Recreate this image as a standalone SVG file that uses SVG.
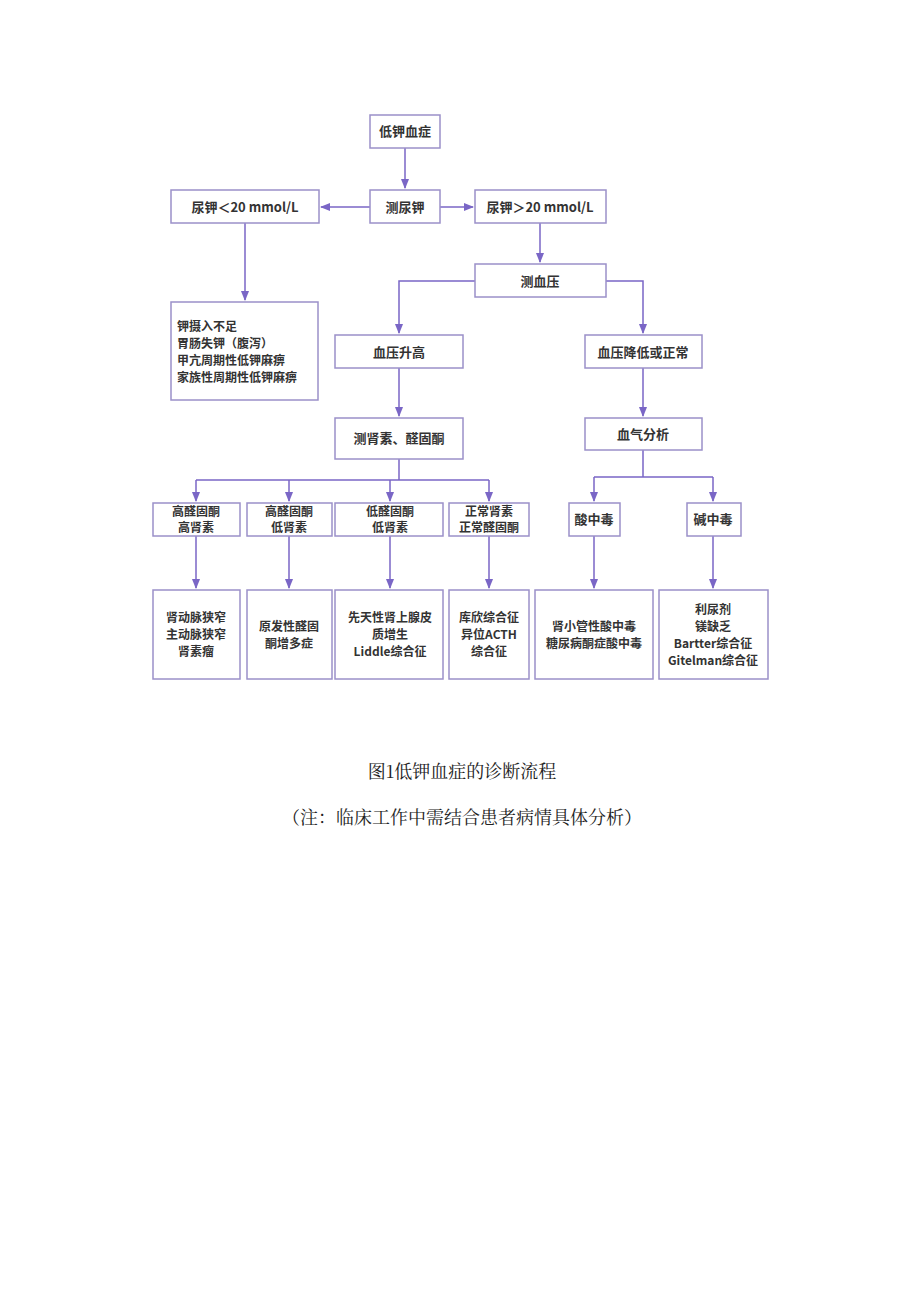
<svg xmlns="http://www.w3.org/2000/svg" width="920" height="1301" viewBox="0 0 920 1301">
<defs>
<marker id="ar" viewBox="0 0 10 10" refX="9" refY="5" markerWidth="7" markerHeight="7" orient="auto"><path d="M0,1 L10,5 L0,9 Z" fill="#7a66c6"/></marker>
<style>
.b{fill:#fff;stroke:#9b90c9;stroke-width:1.5}
.t{font-family:"Noto Sans CJK SC","Noto Sans",sans-serif;font-size:13px;font-weight:bold;fill:#333;text-anchor:middle}
.m{font-size:12px}
.l{text-anchor:start}
.c{fill:none;stroke:#7a66c6;stroke-width:1.5}
.cap{font-family:"Noto Serif CJK SC","Noto Sans CJK SC",serif;font-size:18px;fill:#222;text-anchor:middle}
</style>
</defs>
<rect width="920" height="1301" fill="#fff"/>
<g id="connectors">
<path class="c" d="M405,148 V188" marker-end="url(#ar)"/>
<path class="c" d="M370,207 H321" marker-end="url(#ar)"/>
<path class="c" d="M440,207 H473" marker-end="url(#ar)"/>
<path class="c" d="M245,223 V300" marker-end="url(#ar)"/>
<path class="c" d="M540,223 V262" marker-end="url(#ar)"/>
<path class="c" d="M475,281 H399 V333" marker-end="url(#ar)"/>
<path class="c" d="M606,281 H643 V333" marker-end="url(#ar)"/>
<path class="c" d="M399,368 V416" marker-end="url(#ar)"/>
<path class="c" d="M643,368 V416" marker-end="url(#ar)"/>
<path class="c" d="M399,459 V480"/>
<path class="c" d="M196,480 H489"/>
<path class="c" d="M196,480 V501" marker-end="url(#ar)"/>
<path class="c" d="M289,480 V501" marker-end="url(#ar)"/>
<path class="c" d="M390,480 V501" marker-end="url(#ar)"/>
<path class="c" d="M489,480 V501" marker-end="url(#ar)"/>
<path class="c" d="M643,450 V477 M594,477 H713"/>
<path class="c" d="M594,477 V501" marker-end="url(#ar)"/>
<path class="c" d="M713,477 V501" marker-end="url(#ar)"/>
<path class="c" d="M196,536 V588" marker-end="url(#ar)"/>
<path class="c" d="M289,536 V588" marker-end="url(#ar)"/>
<path class="c" d="M390,536 V588" marker-end="url(#ar)"/>
<path class="c" d="M489,536 V588" marker-end="url(#ar)"/>
<path class="c" d="M594,536 V588" marker-end="url(#ar)"/>
<path class="c" d="M713,536 V588" marker-end="url(#ar)"/>
</g>
<g id="n1"><rect class="b" x="370" y="115" width="70" height="33"/><text class="t" x="405" y="136">低钾血症</text></g>
<g id="n2"><rect class="b" x="370" y="190" width="70" height="33"/><text class="t" x="405" y="212">测尿钾</text></g>
<g id="n3"><rect class="b" x="171" y="190" width="148" height="33"/><text class="t" x="245" y="212">尿钾＜20 mmol/L</text></g>
<g id="n4"><rect class="b" x="475" y="190" width="131" height="33"/><text class="t" x="540" y="212">尿钾＞20 mmol/L</text></g>
<g id="n5"><rect class="b" x="171" y="302" width="147" height="98"/><text class="t m l" x="177" y="331">钾摄入不足</text><text class="t m l" x="177" y="348">胃肠失钾（腹泻）</text><text class="t m l" x="177" y="365">甲亢周期性低钾麻痹</text><text class="t m l" x="177" y="382">家族性周期性低钾麻痹</text></g>
<g id="n6"><rect class="b" x="475" y="264" width="131" height="33"/><text class="t" x="540" y="286">测血压</text></g>
<g id="n7"><rect class="b" x="335" y="335" width="128" height="33"/><text class="t" x="399" y="357">血压升高</text></g>
<g id="n8"><rect class="b" x="585" y="335" width="117" height="33"/><text class="t" x="643" y="357">血压降低或正常</text></g>
<g id="n9"><rect class="b" x="335" y="418" width="128" height="41"/><text class="t" x="399" y="443">测肾素、醛固酮</text></g>
<g id="n10"><rect class="b" x="585" y="418" width="117" height="32"/><text class="t" x="643" y="439">血气分析</text></g>
<g id="n11"><rect class="b" x="153" y="503" width="87" height="33"/><text class="t m" x="196" y="516">高醛固酮</text><text class="t m" x="196" y="532">高肾素</text></g>
<g id="n12"><rect class="b" x="247" y="503" width="85" height="33"/><text class="t m" x="289" y="516">高醛固酮</text><text class="t m" x="289" y="532">低肾素</text></g>
<g id="n13"><rect class="b" x="335" y="503" width="108" height="33"/><text class="t m" x="390" y="516">低醛固酮</text><text class="t m" x="390" y="532">低肾素</text></g>
<g id="n14"><rect class="b" x="449" y="503" width="80" height="33"/><text class="t m" x="489" y="516">正常肾素</text><text class="t m" x="489" y="532">正常醛固酮</text></g>
<g id="n15"><rect class="b" x="569" y="503" width="51" height="33"/><text class="t" x="594" y="524">酸中毒</text></g>
<g id="n16"><rect class="b" x="687" y="503" width="54" height="33"/><text class="t" x="713" y="524">碱中毒</text></g>
<g id="n17"><rect class="b" x="153" y="590" width="87" height="89"/><text class="t m" x="196" y="622">肾动脉狭窄</text><text class="t m" x="196" y="639">主动脉狭窄</text><text class="t m" x="196" y="656">肾素瘤</text></g>
<g id="n18"><rect class="b" x="247" y="590" width="85" height="89"/><text class="t m" x="289" y="631">原发性醛固</text><text class="t m" x="289" y="648">酮增多症</text></g>
<g id="n19"><rect class="b" x="335" y="590" width="108" height="89"/><text class="t m" x="390" y="622">先天性肾上腺皮</text><text class="t m" x="390" y="639">质增生</text><text class="t m" x="390" y="656">Liddle综合征</text></g>
<g id="n20"><rect class="b" x="449" y="590" width="80" height="89"/><text class="t m" x="489" y="622">库欣综合征</text><text class="t m" x="489" y="639">异位ACTH</text><text class="t m" x="489" y="656">综合征</text></g>
<g id="n21"><rect class="b" x="535" y="590" width="118" height="89"/><text class="t m" x="594" y="631">肾小管性酸中毒</text><text class="t m" x="594" y="648">糖尿病酮症酸中毒</text></g>
<g id="n22"><rect class="b" x="659" y="590" width="109" height="89"/><text class="t m" x="713" y="614">利尿剂</text><text class="t m" x="713" y="631">镁缺乏</text><text class="t m" x="713" y="648">Bartter综合征</text><text class="t m" x="713" y="665">Gitelman综合征</text></g>
<text class="cap" x="462" y="778">图1低钾血症的诊断流程</text>
<text class="cap" x="462" y="824">（注：临床工作中需结合患者病情具体分析）</text>
</svg>
